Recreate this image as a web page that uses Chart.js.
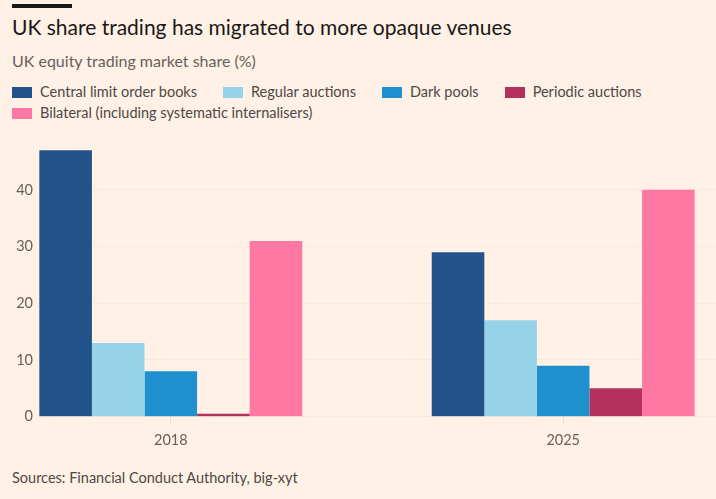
<!DOCTYPE html>
<html>
<head>
<meta charset="utf-8">
<script src="https://cdn.jsdelivr.net/npm/chart.js@4"></script>
<style>
  html, body { margin: 0; padding: 0; background: #fff1e5; }
  body { width: 716px; height: 499px; position: relative; overflow: hidden; font-family: Lato, sans-serif; }
  .bar { position: absolute; left: 12px; top: 4px; width: 60px; height: 4px; background: #1a1817; }
  h1 { position: absolute; left: 12px; top: 14px; margin: 0; font-size: 21px; font-weight: 400; color: #1a1817; white-space: nowrap; }
  .sub { position: absolute; left: 12px; top: 51px; font-size: 16px; color: #66605c; white-space: nowrap; }
  #legend { position: absolute; left: 12px; top: 81px; width: 700px; font-size: 14.5px; color: #4d4845; }
  #legend span.item { display: inline-block; margin-right: 26px; height: 21px; line-height: 21px; white-space: nowrap; }
  #legend i { display: inline-block; width: 20px; height: 11px; vertical-align: -1px; margin-right: 8px; }
  #wrap { position: absolute; left: 0; top: 130px; width: 716px; height: 330px; }
  .src { position: absolute; left: 12px; top: 469px; font-size: 14.5px; color: #4d4845; white-space: nowrap; }
</style>
</head>
<body>
<div class="bar"></div>
<h1>UK share trading has migrated to more opaque venues</h1>
<div class="sub">UK equity trading market share (%)</div>
<div id="legend"></div>
<div id="wrap"><canvas id="chart"></canvas></div>
<div class="src">Sources: Financial Conduct Authority, big-xyt</div>
<script>
// datos
const years = ['2018', '2025'];
const series = ['Central limit order books', 'Regular auctions', 'Dark pools', 'Periodic auctions', 'Bilateral (including systematic internalisers)'];
const clob = [47, 29];
const regularAuctions = [13, 17];
const darkPools = [8, 9];
const periodicAuctions = [0.5, 5];
const bilateral = [31, 40];
const yTicks = [0, 10, 20, 30, 40];

const colores = ['#215289', '#96d3e8', '#1f8fcd', '#b4305d', '#ff78a3'];
const valores = [clob, regularAuctions, darkPools, periodicAuctions, bilateral];

// leyenda en html
const leyenda = document.getElementById('legend');
series.forEach((nombre, i) => {
    const s = document.createElement('span');
    s.className = 'item';
    s.innerHTML = '<i style="background:' + colores[i] + '"></i>' + nombre;
    leyenda.appendChild(s);
});

new Chart(document.getElementById('chart'), {
    type: 'bar',
    data: {
        datasets: series.map((nombre, i) => ({
            label: nombre,
            data: valores[i].map((v, j) => ({ x: j, y: v })),
            backgroundColor: colores[i],
            borderWidth: 0,
            categoryPercentage: 0.67,
            barPercentage: 1
        }))
    },
    options: {
        responsive: true,
        maintainAspectRatio: false,
        animation: false,
        layout: { padding: { top: 14.5, right: 0, left: 0, bottom: 0 } },
        plugins: { legend: { display: false }, tooltip: { enabled: false } },
        scales: {
            x: {
                type: 'linear',
                offset: false,
                min: -0.3384,
                max: 1.3894,
                afterBuildTicks: s => { s.ticks = years.map((y, i) => ({ value: i })); },
                afterFit: s => { s.height = 43.3; },
                border: { display: false },
                grid: { offset: false, drawOnChartArea: false, color: '#eadccf', tickLength: 7 },
                ticks: {
                    padding: 8,
                    color: '#66605c',
                    font: { family: 'Lato', size: 14.5 },
                    callback: v => years[v]
                }
            },
            y: {
                min: 0,
                max: 48,
                afterBuildTicks: s => { s.ticks = yTicks.map(v => ({ value: v })); },
                afterFit: s => { s.width = 38; },
                border: { display: false },
                grid: { color: '#f8eadd', drawTicks: false },
                ticks: {
                    padding: 5,
                    color: '#66605c',
                    font: { family: 'Lato', size: 14.5 }
                }
            }
        }
    }
});
</script>
</body>
</html>
